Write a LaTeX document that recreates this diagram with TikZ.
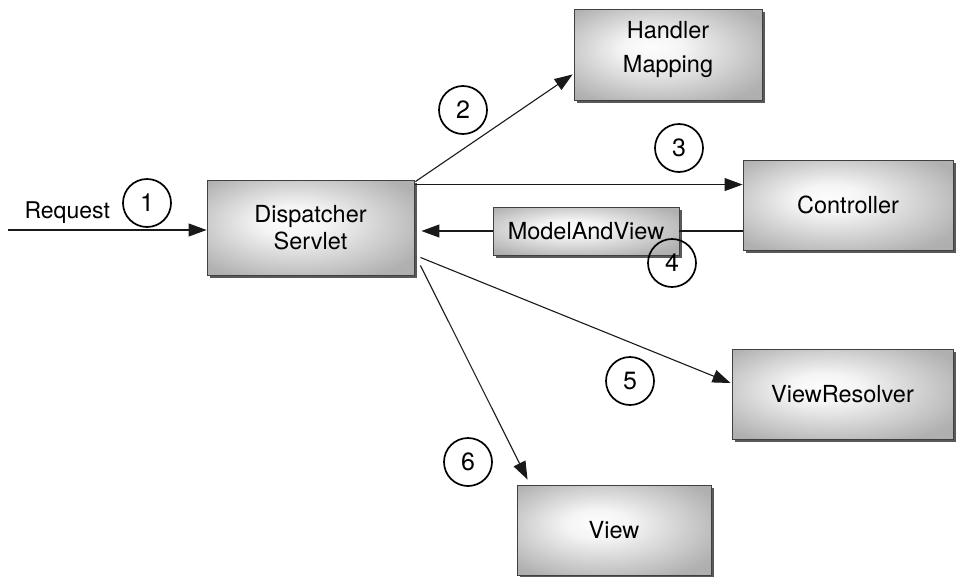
\documentclass[tikz,border=0pt]{standalone}
\usepackage{fontspec}
\setmainfont{TeX Gyre Heros}
\usetikzlibrary{arrows.meta,shadows,calc}
\pgfdeclareradialshading{boxshade}{\pgfpoint{-5bp}{4bp}}{color(0bp)=(black!1); color(8bp)=(black!4); color(32bp)=(black!31); color(50bp)=(black!33)}
\begin{document}
\begin{tikzpicture}[x=1pt,y=-1pt,
  box/.style={draw=black!75, line width=0.9pt, shade, shading=boxshade,
    drop shadow={shadow xshift=3pt, shadow yshift=-3pt, fill=black!65, opacity=1},
    align=center, font=\fontsize{23.5}{27}\selectfont, text=black, inner sep=0pt},
  boxtext/.style={align=center, font=\fontsize{23.5}{34}\selectfont, text=black, inner sep=0pt},
  num/.style={circle, draw=black, line width=1.7pt, minimum size=48pt, inner sep=0pt,
    font=\fontsize{25}{25}\selectfont, text=black},
  arr/.style={line width=1.1pt, draw=black!90, -{Triangle[length=18pt,width=13pt]}},
  plainline/.style={line width=1.1pt, draw=black!90}]
\useasboundingbox (0,0) rectangle (959,576);

\node[box, minimum width=207pt, minimum height=95pt] (ds) at (310.5,227.5) {Dispatcher\\Servlet};
\node[box, minimum width=188pt, minimum height=91pt] (hm) at (668,54.5) {};
\node[boxtext] (hmtext) at ($(hm.center)+(0,-5)$) {Handler\\Mapping};
\node[box, minimum width=210pt, minimum height=90pt] (ctrl) at (848,205) {Controller};
\node[box, minimum width=186pt, minimum height=48pt] (mav) at (586,231) {ModelAndView};
\node[box, minimum width=221pt, minimum height=90pt] (vr) at (842.5,394) {ViewResolver};
\node[box, minimum width=194pt, minimum height=90pt] (view) at (614,530) {View};

\node[anchor=base west, font=\fontsize{23}{27}\selectfont, text=black] (reqlabel) at (21,218) {Request};
\coordinate (req) at (8,230);
\draw[arr] (req) -- (req -| ds.west);

\draw[arr] ($(ds.north east)+(1,2)$) -- ($(hm.south west)+(-1,-26)$);
\coordinate (a3) at ($(ds.north east)+(1,5)$);
\draw[arr] (a3) -- (a3 -| ctrl.west);
\draw[plainline] (ctrl.west |- mav.east) -- (mav.east);
\draw[arr] (mav.west) -- ($(mav.west -| ds.east)+(7,0)$);
\draw[arr] ($(ds.south east)+(6,-18)$) -- ($(vr.west)+(-1,-11)$);
\draw[arr] ($(ds.south east)+(6,-10)$) -- ($(view.north west)+(11,-5)$);

\node[num] (n1) at (147,203) {1};
\node[num] (n2) at (463,110) {2};
\node[num] (n3) at (679,148) {3};
\node[num] (n4) at (672,263) {4};
\node[num] (n5) at (630,381) {5};
\node[num] (n6) at (468,462) {6};
\end{tikzpicture}
\end{document}
